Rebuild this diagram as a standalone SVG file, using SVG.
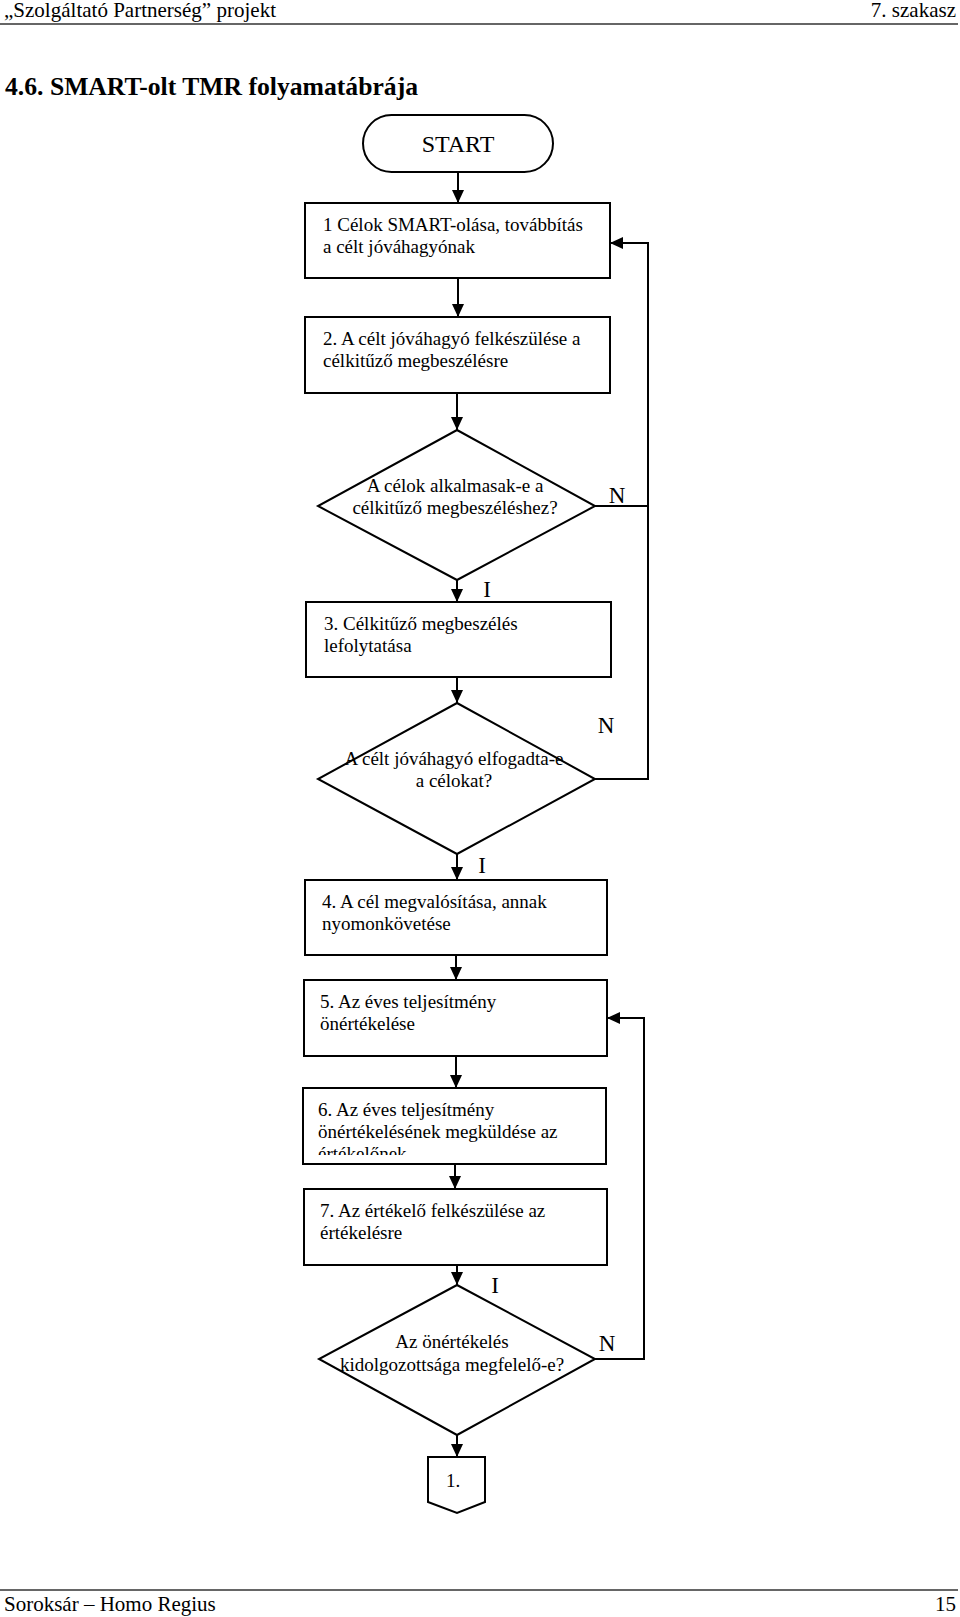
<svg xmlns="http://www.w3.org/2000/svg" width="960" height="1617" viewBox="0 0 960 1617">
<style>
text{font-family:"Liberation Serif","Times New Roman",serif;fill:#000}
.t{font-size:19px}
.lbl{font-size:23px}
.hd{font-size:21px}
.box{fill:#fff;stroke:#000;stroke-width:2}
.ln{fill:none;stroke:#000;stroke-width:2}
.rule{stroke:#333;stroke-width:1.5}
</style>
<defs>
<marker id="ah" markerUnits="userSpaceOnUse" markerWidth="13" markerHeight="12" refX="13" refY="6" orient="auto">
<path d="M0,0 L13,6 L0,12 z" fill="#000"/>
</marker>
<clipPath id="c6"><rect x="303" y="1088" width="303" height="67"/></clipPath>
</defs>
<rect width="960" height="1617" fill="#fff"/>
<g id="header">
<text class="hd" x="4" y="17" textLength="272" lengthAdjust="spacingAndGlyphs">„Szolgáltató Partnerség” projekt</text>
<text class="hd" x="956" y="17" text-anchor="end">7. szakasz</text>
<line class="rule" x1="0" y1="24" x2="958" y2="24"/>
<text x="5" y="95" style="font-size:25px;font-weight:bold" textLength="413" lengthAdjust="spacingAndGlyphs">4.6.  SMART-olt TMR folyamatábrája</text>
</g>
<g id="connectors">
<line class="ln" x1="458" y1="172" x2="458" y2="203" marker-end="url(#ah)"/>
<line class="ln" x1="458" y1="278" x2="458" y2="317" marker-end="url(#ah)"/>
<line class="ln" x1="457" y1="393" x2="457" y2="430" marker-end="url(#ah)"/>
<line class="ln" x1="457" y1="580" x2="457" y2="602" marker-end="url(#ah)"/>
<line class="ln" x1="457" y1="677" x2="457" y2="703" marker-end="url(#ah)"/>
<line class="ln" x1="457" y1="854" x2="457" y2="880" marker-end="url(#ah)"/>
<line class="ln" x1="456" y1="955" x2="456" y2="980" marker-end="url(#ah)"/>
<line class="ln" x1="456" y1="1056" x2="456" y2="1088" marker-end="url(#ah)"/>
<line class="ln" x1="455" y1="1164" x2="455" y2="1189" marker-end="url(#ah)"/>
<line class="ln" x1="457" y1="1265" x2="457" y2="1285" marker-end="url(#ah)"/>
<line class="ln" x1="457" y1="1435" x2="457" y2="1457" marker-end="url(#ah)"/>
<polyline class="ln" points="595,506 648,506"/>
<polyline class="ln" points="595,779 648,779 648,243 610,243" marker-end="url(#ah)"/>
<polyline class="ln" points="595,1359 644,1359 644,1018 607,1018" marker-end="url(#ah)"/>
<text class="lbl" x="617" y="503" text-anchor="middle">N</text>
<text class="lbl" x="487" y="597" text-anchor="middle">I</text>
<text class="lbl" x="606" y="733" text-anchor="middle">N</text>
<text class="lbl" x="482" y="873" text-anchor="middle">I</text>
<text class="lbl" x="495" y="1293" text-anchor="middle">I</text>
<text class="lbl" x="607" y="1351" text-anchor="middle">N</text>
</g>
<g id="start">
<rect class="box" x="363" y="115" width="190" height="57" rx="28.5" ry="28.5"/>
<text x="458" y="152" text-anchor="middle" style="font-size:24px">START</text>
</g>
<g id="step1">
<rect class="box" x="305" y="203" width="305" height="75"/>
<text class="t" x="323" y="231">1 Célok SMART-olása, továbbítás</text>
<text class="t" x="323" y="253">a célt jóváhagyónak</text>
</g>
<g id="step2">
<rect class="box" x="305" y="317" width="305" height="76"/>
<text class="t" x="323" y="345">2. A célt jóváhagyó felkészülése a</text>
<text class="t" x="323" y="367">célkitűző megbeszélésre</text>
</g>
<g id="decision1">
<polygon class="box" points="457,430 595,506 457,580 318,506"/>
<text class="t" x="455" y="492" text-anchor="middle">A célok alkalmasak-e a</text>
<text class="t" x="455" y="514" text-anchor="middle">célkitűző megbeszéléshez?</text>
</g>
<g id="step3">
<rect class="box" x="306" y="602" width="305" height="75"/>
<text class="t" x="324" y="630">3. Célkitűző megbeszélés</text>
<text class="t" x="324" y="652">lefolytatása</text>
</g>
<g id="decision2">
<polygon class="box" points="457,703 595,779 457,854 318,779"/>
<text class="t" x="454" y="765" text-anchor="middle">A célt jóváhagyó elfogadta-e</text>
<text class="t" x="454" y="787" text-anchor="middle">a célokat?</text>
</g>
<g id="step4">
<rect class="box" x="305" y="880" width="302" height="75"/>
<text class="t" x="322" y="908">4. A cél megvalósítása, annak</text>
<text class="t" x="322" y="930">nyomonkövetése</text>
</g>
<g id="step5">
<rect class="box" x="304" y="980" width="303" height="76"/>
<text class="t" x="320" y="1008">5. Az éves teljesítmény</text>
<text class="t" x="320" y="1030">önértékelése</text>
</g>
<g id="step6">
<rect class="box" x="303" y="1088" width="303" height="76"/>
<g clip-path="url(#c6)">
<text class="t" x="318" y="1116">6. Az éves teljesítmény</text>
<text class="t" x="318" y="1138">önértékelésének megküldése az</text>
<text class="t" x="318" y="1160">értékelőnek</text>
</g>
</g>
<g id="step7">
<rect class="box" x="304" y="1189" width="303" height="76"/>
<text class="t" x="320" y="1217">7. Az értékelő felkészülése az</text>
<text class="t" x="320" y="1239">értékelésre</text>
</g>
<g id="decision3">
<polygon class="box" points="457,1285 595,1359 457,1435 319,1359"/>
<text class="t" x="452" y="1348" text-anchor="middle">Az önértékelés</text>
<text class="t" x="452" y="1371" text-anchor="middle">kidolgozottsága megfelelő-e?</text>
</g>
<g id="connector1">
<polygon class="box" points="428,1457 485,1457 485,1502 457,1513 428,1502"/>
<text class="t" x="453" y="1487" text-anchor="middle">1.</text>
</g>
<g id="footer">
<line class="rule" x1="0" y1="1590" x2="958" y2="1590"/>
<text class="hd" x="4" y="1611">Soroksár – Homo Regius</text>
<text class="hd" x="956" y="1611" text-anchor="end">15</text>
</g>
</svg>
